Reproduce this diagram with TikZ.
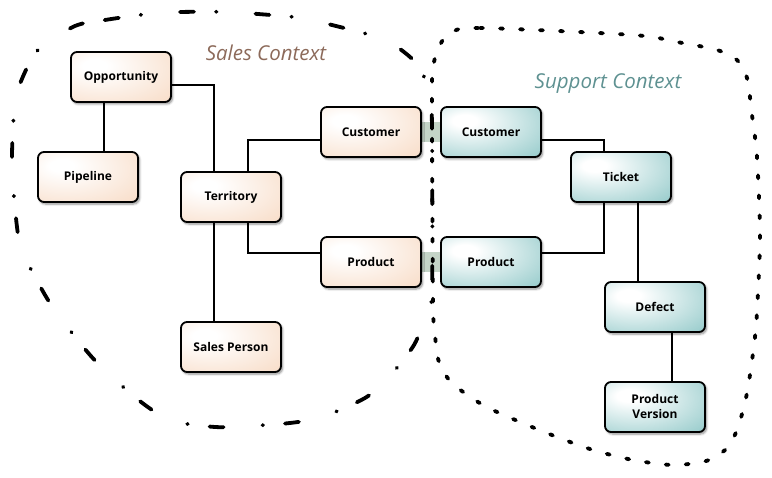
\documentclass[tikz,border=0pt]{standalone}
\usepackage{fontspec}
\setmainfont{Open Sans}
\usetikzlibrary{shadows.blur,backgrounds}
\definecolor{salesedge}{RGB}{246,212,186}
\definecolor{supportedge}{RGB}{124,190,190}
\definecolor{salestitle}{RGB}{140,106,90}
\definecolor{supporttitle}{RGB}{94,145,145}
\definecolor{kernel}{RGB}{196,212,199}
\pgfdeclareradialshading{salesfill}{\pgfpoint{-14bp}{12bp}}{color(0bp)=(white); color(6bp)=(white); color(55bp)=(salesedge); color(100bp)=(salesedge)}
\pgfdeclareradialshading{supportfill}{\pgfpoint{-14bp}{12bp}}{color(0bp)=(white); color(6bp)=(white); color(55bp)=(supportedge); color(100bp)=(supportedge)}
\begin{document}
\begin{tikzpicture}[x=1pt,y=-1pt]
\tikzstyle{entity}=[draw, line width=1.8pt, rounded corners=6pt, minimum width=100pt, minimum height=50pt, inner sep=0pt, align=center, font=\bfseries\fontsize{12}{15}\selectfont, blur shadow={shadow xshift=1.5pt, shadow yshift=-2pt, shadow blur steps=6, shadow opacity=45}]
\tikzstyle{sales}=[entity, shading=salesfill]
\tikzstyle{support}=[entity, shading=supportfill]
\tikzstyle{link}=[line width=1.5pt]
\tikzstyle{salesline}=[line width=3.8pt, line cap=round, dash pattern=on 14pt off 22pt on 0.5pt off 39pt]
\tikzstyle{supportline}=[line width=3.8pt, line cap=round, dash pattern=on 3pt off 17pt]
\tikzstyle{title}=[font=\itshape\fontsize{20.5}{24}\selectfont]
\useasboundingbox (0,0) rectangle (772,478);
\node [sales] (opportunity) at (121,77) {Opportunity};
\node [sales] (pipeline) at (88,177) {Pipeline};
\node [sales] (territory) at (231,197) {Territory};
\node [sales] (salesperson) at (231,347) {Sales Person};
\node [sales] (salescustomer) at (371,132) {Customer};
\node [sales] (salesproduct) at (371,262) {Product};
\node [support] (supportcustomer) at (491,132) {Customer};
\node [support] (supportproduct) at (491,262) {Product};
\node [support] (ticket) at (621,177) {Ticket};
\node [support] (defect) at (655,307) {Defect};
\node [support] (productversion) at (655,407) {Product\\Version};
\node [title, text=salestitle] (salestitle) at (266,53) {Sales Context};
\node [title, text=supporttitle] (supporttitle) at (608,84) {Support Context};
\begin{pgfonlayer}{background}
\fill [kernel] ([yshift=10pt]salescustomer.east) rectangle ([yshift=-10pt]supportcustomer.west);
\fill [kernel] ([yshift=10pt]salesproduct.east) rectangle ([yshift=-10pt]supportproduct.west);
\draw [salesline] plot [smooth cycle] coordinates {(75,26) (105,20) (148,14) (180,12) (227,12) (258,14) (302,18) (332,25) (377,37) (400,49) (420,68) (430,98) (432,130) (432,290) (427,312) (414,345) (388,378) (365,398) (322,417) (290,423) (248,426) (215,427) (173,421) (145,405) (112,377) (90,355) (62,320) (45,295) (23,253) (17,227) (12,165) (15,103) (25,72) (40,48)};
\draw [supportline] plot [smooth cycle] coordinates {(450,33) (480,28) (633,35) (677,42) (717,50) (737,60) (747,78) (752,115) (757,157) (760,233) (758,293) (755,337) (747,393) (737,430) (725,450) (706,461) (673,465) (633,460) (593,450) (557,437) (520,422) (483,405) (452,383) (439,362) (435,335) (433,300) (432,90) (434,62) (440,45)};
\end{pgfonlayer}
\draw [link] ([yshift=-8pt]opportunity.east) -| ([xshift=-17pt]territory.north);
\draw [link] ([xshift=-17pt]opportunity.south) -- ([xshift=-17pt]opportunity.south |- pipeline.north);
\draw [link] ([xshift=17pt]territory.north) |- ([yshift=-8pt]salescustomer.west);
\draw [link] ([xshift=17pt]territory.south) |- ([yshift=9pt]salesproduct.west);
\draw [link] ([xshift=-17pt]territory.south) -- ([xshift=-17pt]salesperson.north);
\draw [link] ([yshift=-8pt]supportcustomer.east) -| ([xshift=-17pt]ticket.north);
\draw [link] ([yshift=9pt]supportproduct.east) -| ([xshift=-17pt]ticket.south);
\draw [link] ([xshift=17pt]ticket.south) -- ([xshift=17pt]ticket.south |- defect.north);
\draw [link] ([xshift=17pt]defect.south) -- ([xshift=17pt]defect.south |- productversion.north);
\end{tikzpicture}
\end{document}
